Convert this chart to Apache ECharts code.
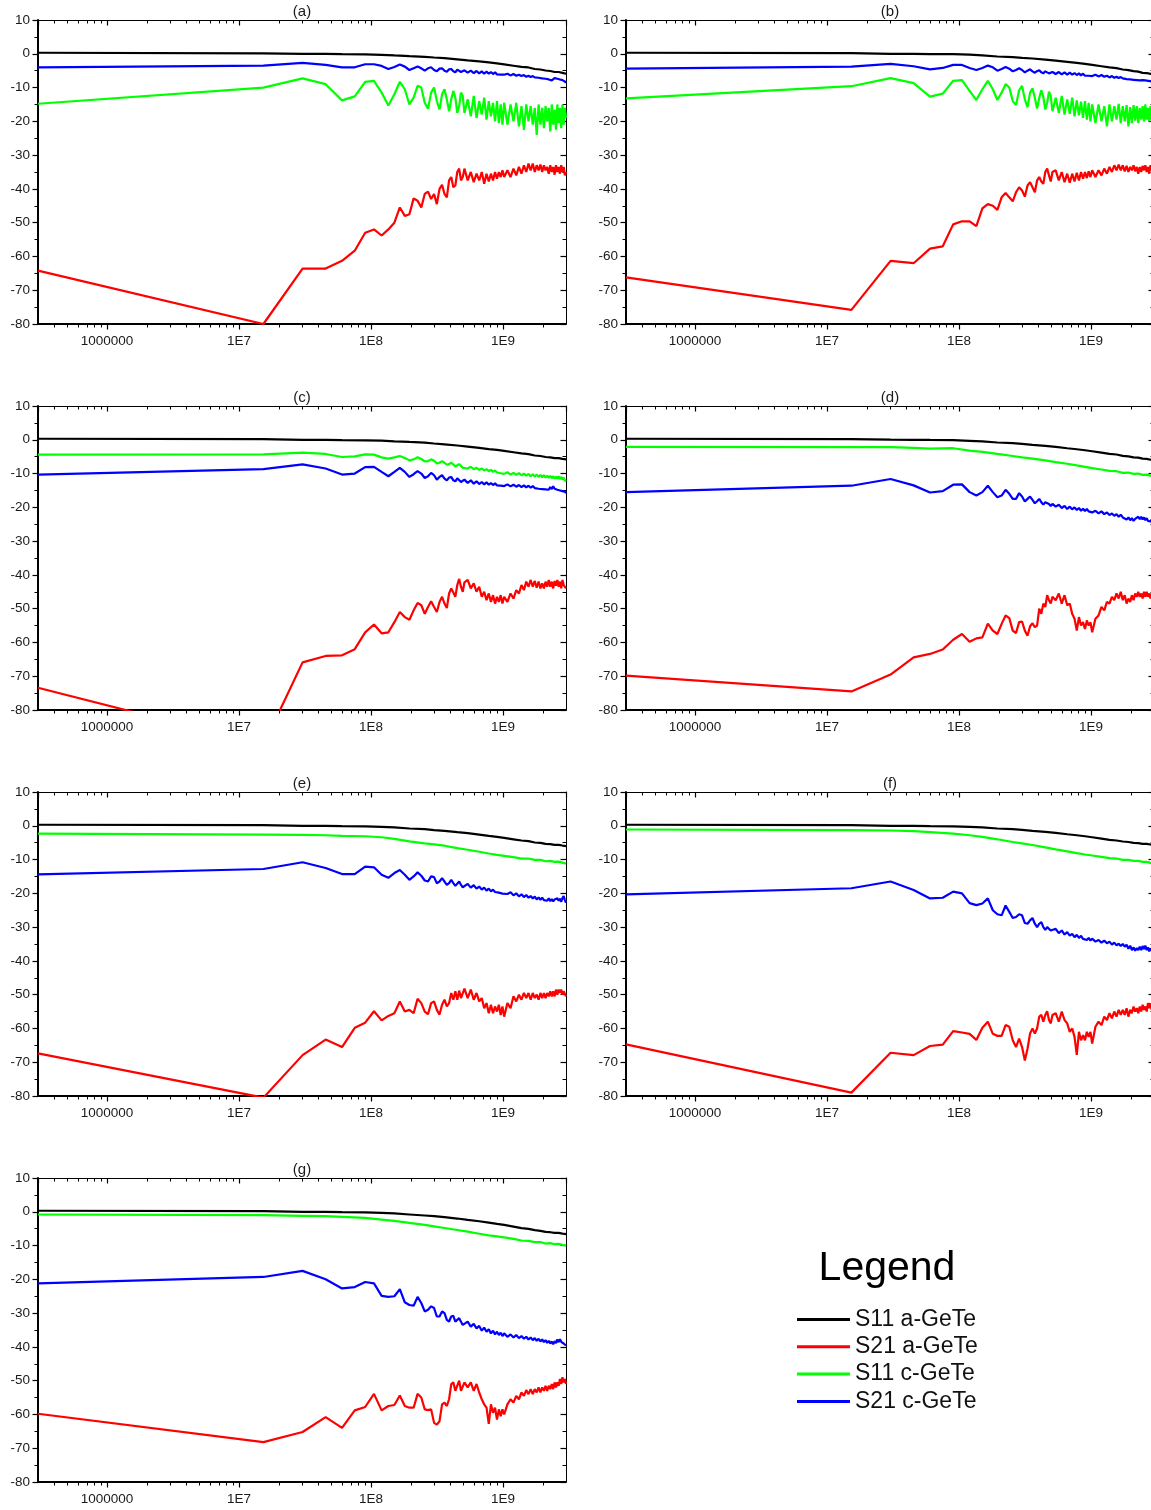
<!DOCTYPE html>
<html>
<head>
<meta charset="utf-8">
<script src="https://cdn.jsdelivr.net/npm/echarts@6/dist/echarts.min.js"></script>
<style>
  html, body { margin: 0; padding: 0; background: #fff; }
  #chart { width: 1151px; height: 1510px; }
</style>
</head>
<body>
<div id="chart"></div>
<script>
// Frequency sweep points (MHz) used by the rippled traces
const freqMHz = [
  0.3, 15.3, 30.3, 45.3, 60.3, 75.3, 90.3, 105.3, 120.3, 135.3, 150.3, 165.3, 180.3, 195.3, 210.3, 225.3, 240.3, 255.3,
  270.3, 285.3, 300.3, 315.3, 330.3, 345.3, 360.3, 375.3, 390.3, 405.3, 420.3, 435.3, 450.3, 465.3, 480.3, 495.3, 510.3,
  540, 570, 600, 630, 660, 690, 720, 750, 780, 810, 840, 870, 900, 930, 960, 990, 1020,
  1080, 1140, 1200, 1260, 1320, 1380, 1440, 1500, 1560, 1620, 1680, 1740, 1800, 1860, 1920, 1980, 2040, 2100, 2160,
  2220, 2280, 2340, 2400, 2460, 2520, 2580, 2640, 2700, 2760, 2820, 2880, 2940, 3000
];
// Sparser points (MHz) for the smooth traces
const coarseMHz = [
  0.3, 15.3, 30.3, 45.3, 60.3, 90.3, 120.3, 150.3, 195.3, 255.3, 300.3, 360.3, 450.3, 540, 660, 780, 900, 1020,
  1200, 1380, 1560, 1740, 1920, 2100, 2280, 2460, 2640, 2820, 3000
];
// Axis ticks
const xTickValues = [1e6, 1e7, 1e8, 1e9];
const xTickLabels = ['1000000', '1E7', '1E8', '1E9'];
const minorTickMHz = [0.4, 0.5, 0.6, 0.7, 0.8, 0.9, 2, 3, 4, 5, 6, 7, 8, 9, 20, 30, 40, 50, 60, 70, 80, 90,
  200, 300, 400, 500, 600, 700, 800, 900, 2000];
const seriesNames = ['S11 a-GeTe', 'S21 a-GeTe', 'S11 c-GeTe', 'S21 c-GeTe'];
const seriesColors = ['#000000', '#ff0000', '#00ff00', '#0000ff'];
const panelLabels = ['(a)', '(b)', '(c)', '(d)', '(e)', '(f)', '(g)'];

// ---- (a) ----
const aS11a = [0.3, 0.1, 0, -0.05, -0.1, -0.15, -0.3, -0.5, -0.7, -0.9, -1.1, -1.3, -1.65, -1.95, -2.25, -2.55, -2.85, -3.15,
  -3.55, -3.9, -4.05, -4.5, -4.65, -4.95, -5.1, -5.4, -5.4, -5.65, -5.9];
const aS21a = [
  -64.2, -80, -63.6, -63.6, -61.3, -58.3, -53, -52, -53.8, -52, -50, -45.5, -48, -47.5, -42.8, -43.5, -45.5, -41.5,
  -40.8, -43, -41.5, -44.5, -40, -38.8, -41.5, -42.5, -37.5, -36.5, -39.5, -39, -35, -34, -37.5, -36.5, -34,
  -37.5, -35, -38, -35.5, -37.5, -35, -38.5, -35.5, -37.8, -35.5, -37.5, -35, -37, -35, -36.5, -34.5, -36.5,
  -34.5, -36.5, -34, -36, -33.5, -35.5, -33, -35, -32.5, -34.5, -32.5, -35, -33, -34.5, -32.8, -35, -33, -34.5, -33.5,
  -35.5, -33, -35, -33.5, -35.8, -33, -35, -33.5, -35.5, -33, -35, -33.5, -36, -35];
const aS11c = [
  -14.8, -10, -7.3, -9, -13.8, -12.6, -8.3, -8, -11.5, -15.3, -12, -8.3, -10.5, -15, -13, -9.5, -10, -14.5,
  -16.3, -11.5, -10, -14, -16.5, -12, -10.5, -13.5, -17, -13.5, -11, -13, -17.5, -15.5, -11.5, -12.5, -17.5,
  -13.5, -18.5, -12.5, -19, -14, -18, -13, -19.5, -14, -18.5, -14.5, -20, -14, -20.5, -15, -21, -14.5,
  -21, -15, -20, -14.5, -21.5, -15.5, -22.5, -15, -20, -15.5, -21, -16, -24, -15, -21, -16, -22, -15.5, -20,
  -16, -23, -15, -21, -16.5, -22.5, -15, -20.5, -16, -22, -15, -21, -16, -19];
const aS21c = [
  -4, -3.5, -2.7, -3.3, -4, -4, -3.1, -3.1, -3.6, -4.5, -3.9, -3.2, -3.8, -4.8, -4.3, -3.8, -4.3, -5,
  -4.3, -4, -4.8, -5.2, -4.4, -4.3, -5, -5.3, -4.6, -4.5, -5.2, -5.5, -4.7, -4.7, -5.4, -5.6, -4.9,
  -5.6, -5, -5.7, -5.1, -5.8, -5.2, -5.9, -5.3, -5.9, -5.4, -6, -5.5, -6.1, -5.6, -6.2, -5.7, -6.2,
  -5.9, -6.4, -6, -6.5, -6.2, -6.6, -6.3, -6.8, -6.5, -6.9, -6.6, -7, -6.7, -7.1, -6.9, -7.3, -7, -7.4, -7.2,
  -7.6, -7.5, -7.9, -7.4, -7.2, -7, -7.4, -7.1, -7.6, -7.3, -7.8, -7.9, -8.2, -8.6];

// ---- (b) ----
const bS11a = [0.3, 0.2, 0, -0.05, -0.1, -0.1, -0.25, -0.5, -0.8, -1, -1.2, -1.4, -1.75, -2.05, -2.4, -2.7, -3, -3.3,
  -3.7, -4.05, -4.25, -4.65, -4.85, -5.15, -5.3, -5.65, -5.7, -5.95, -6.1];
const bS21a = [
  -66.2, -75.8, -61.3, -62, -57.7, -57, -50.5, -49.6, -49.6, -51, -45.8, -44.5, -45, -46.2, -42.5, -41.2, -42.5, -43.7,
  -41, -39.5, -40.5, -42.3, -39, -38, -39.5, -41, -37.5, -36.5, -37.8, -38.5, -35, -34, -36, -37.8, -35,
  -34.5, -37.5, -35, -38, -35.5, -38.2, -35.5, -37.8, -35.2, -37.5, -35, -37, -35, -36.8, -34.8, -36.5, -34.5,
  -36.5, -34.5, -36, -34, -35.5, -33.5, -35, -33, -34.5, -32.8, -34.5, -33, -34.8, -33.2, -35, -33.5, -34.5, -33, -34.8,
  -33.5, -35.5, -33.5, -35, -33.2, -34.5, -33, -35, -33.5, -35.5, -33, -34.5, -33.5, -35];
const bS11c = [
  -13.2, -9.6, -7.2, -8.7, -12.7, -11.8, -8, -7.8, -11, -13.7, -10.5, -8, -10.5, -13.7, -11.5, -9, -10, -14,
  -15.2, -10.8, -9.5, -13.5, -15.8, -11.5, -10.2, -13, -16.2, -13, -10.8, -12.8, -16.5, -14.5, -11.2, -12.5, -17,
  -13, -17.5, -12.5, -18, -13.5, -17.8, -13, -18.5, -13.8, -18.2, -14.2, -19, -14, -19.5, -14.5, -20, -15,
  -20.5, -15, -20, -15.5, -21.5, -15, -20, -15.5, -19.5, -14.8, -20.5, -15.5, -20, -15.2, -21.5, -15.8, -20.5, -15.2, -19.8,
  -15.5, -20.5, -16, -19.5, -15.5, -20, -15, -19.5, -16, -20, -15.5, -19.5, -16, -17];
const bS21c = [
  -4.4, -3.8, -3, -3.7, -4.6, -4.2, -3.3, -3.3, -4.2, -4.8, -4.2, -3.5, -4, -5, -4.5, -3.9, -4.4, -5.2,
  -4.8, -4.3, -4.8, -5.5, -5, -4.6, -5.2, -5.6, -5.1, -4.9, -5.5, -5.8, -5.2, -5.2, -5.8, -5.9, -5.4,
  -6, -5.4, -6.1, -5.5, -6.2, -5.6, -6.2, -5.7, -6.3, -5.8, -6.4, -5.9, -6.5, -6, -6.5, -6.1, -6.6,
  -6.2, -6.7, -6.3, -6.8, -6.5, -7, -6.6, -7.1, -6.8, -7.2, -6.9, -7.3, -7, -7.5, -7.2, -7.6, -7.3, -7.7, -7.3,
  -7.8, -7.5, -7.9, -7.5, -7.8, -7.4, -7.9, -7.6, -8, -7.7, -8.1, -8, -8.4, -8.9];

// ---- (c) ----
const cS11a = [0.3, 0.2, 0, -0.05, -0.1, -0.15, -0.25, -0.45, -0.65, -0.85, -1.1, -1.35, -1.7, -2, -2.4, -2.75, -3, -3.3,
  -3.7, -4.05, -4.25, -4.65, -4.8, -5.1, -5.2, -5.45, -5.45, -5.65, -5.8];
const cS21a = [
  -73.4, -90.4, -65.9, -64, -63.8, -62, -57, -54.7, -57.3, -57, -54, -51, -52.5, -53.3, -50.5, -48.3, -49, -51.5,
  -49.5, -47.8, -49.5, -51, -48, -46.5, -48.5, -49.8, -45.5, -44, -45.2, -46.5, -43, -41.2, -43.5, -45, -42.2,
  -41.5, -44, -42.5, -45, -43.5, -46.5, -45, -47.5, -45.5, -48, -46, -48.5, -46.5, -48, -46, -48.5, -46.5,
  -48, -45.5, -47, -44.5, -45.5, -43, -44.5, -42, -43.5, -41.5, -43.5, -41.8, -43.8, -42, -44, -42.5, -44, -42, -43.5,
  -41.5, -43.5, -42, -44, -41.8, -43.2, -41.5, -43.5, -42, -44, -41.5, -43, -42.5, -44];
const cS11c = [
  -4.4, -4.3, -3.8, -4.2, -5.1, -4.9, -4.3, -4.4, -5.2, -5.6, -5.2, -4.8, -5.4, -6.1, -5.8, -5.2, -5.7, -6.4,
  -6.3, -5.8, -6.2, -7, -6.8, -6.3, -6.8, -7.4, -7.2, -6.8, -7.3, -7.9, -7.6, -7.2, -7.7, -8.3, -8,
  -8.5, -8, -8.7, -8.3, -8.9, -8.5, -9.1, -8.7, -9.3, -8.9, -9.5, -9.1, -9.7, -9.3, -9.9, -9.5, -10.1,
  -9.6, -10.3, -9.8, -10.4, -9.9, -10.5, -10, -10.6, -10.1, -10.8, -10.2, -10.9, -10.3, -11, -10.4, -11.1, -10.5, -11.2, -10.6,
  -11.3, -10.7, -11.4, -10.8, -11.5, -10.9, -11.5, -10.8, -11.6, -11, -11.8, -11.2, -12, -12.3];
const cS21c = [
  -10.3, -8.7, -7.3, -8.5, -10.3, -10, -8.1, -8, -9.5, -10.8, -9.5, -8.3, -9.5, -11, -10.2, -9.3, -10, -11.3,
  -10.8, -9.8, -10.5, -11.8, -11, -10.5, -11.5, -12, -11.2, -11, -12, -12.3, -11.4, -11.5, -12.5, -12.6, -11.8,
  -12.8, -12, -13, -12.3, -13.1, -12.5, -13.2, -12.6, -13.3, -12.8, -13.4, -12.9, -13.5, -13, -13.6, -13.1, -13.7,
  -13.2, -13.8, -13.3, -13.9, -13.4, -14, -13.5, -14.1, -13.6, -14.2, -13.7, -14.3, -13.9, -14.5, -14, -14.6, -14.1, -14.7, -14.2,
  -14.8, -14, -14.6, -13.8, -14.5, -14, -14.8, -14.3, -15, -14.5, -15.2, -14.8, -15.4, -15.8];

// ---- (d) ----
const dS11a = [0.3, 0.2, 0.05, 0, -0.05, -0.1, -0.3, -0.5, -0.8, -1, -1.2, -1.5, -1.8, -2.1, -2.5, -2.8, -3.1, -3.4,
  -3.8, -4.15, -4.35, -4.75, -4.9, -5.2, -5.3, -5.6, -5.65, -5.9, -6];
const dS21a = [
  -69.8, -74.5, -69.5, -64.4, -63.4, -62.1, -59.2, -57.5, -59.8, -58.8, -58.5, -54.4, -56.5, -57.5, -54.5, -52, -52.8, -56.5,
  -57.2, -54, -53.8, -56.5, -58, -55.2, -54.3, -55.5, -55, -50, -51.5, -48.5, -49.5, -46, -47.5, -48.5, -46.5,
  -47.5, -45.5, -48.5, -46, -49, -48.5, -51.5, -53, -56.5, -52.5, -55, -54, -56, -53.5, -55, -54, -57,
  -53, -52, -49.5, -50.5, -48, -48.5, -46.5, -47.5, -45.5, -47, -45, -47.5, -46, -48.5, -47, -48, -46, -47.5, -45.5,
  -46.5, -45, -46.5, -45.5, -47, -45, -46.5, -45, -46.5, -45.5, -47, -45.5, -46.5, -47];
const dS11c = [-2.1, -2.2, -2.2, -2.4, -2.6, -2.5, -3.2, -3.6, -4.2, -4.8, -5.2, -5.6, -6.1, -6.6, -7.1, -7.6, -8, -8.4,
  -8.8, -9.2, -9.3, -9.8, -9.7, -10.1, -10, -10.4, -10.3, -10.6, -10.9];
const dS21c = [
  -15.5, -13.6, -11.6, -13.5, -15.6, -15.2, -13.3, -13.2, -15.5, -16.5, -15.5, -13.6, -15.5, -17, -16.5, -14.8, -16, -17.5,
  -17.5, -15.8, -16.8, -18.3, -17.5, -16.8, -17.8, -18.8, -18.2, -17.5, -18.5, -19.2, -18.5, -18, -19, -19.6, -19,
  -19.8, -19.2, -20.2, -19.6, -20.5, -19.8, -20.6, -20, -20.8, -20.2, -21, -20.4, -21.1, -20.5, -21.2, -20.7, -21.5,
  -21, -21.8, -21.2, -22, -21.5, -22.3, -21.8, -22.5, -22, -22.8, -22.2, -23, -22.8, -23.6, -23, -23.8, -23.2, -24, -23.4,
  -23.8, -22.8, -23.5, -22.8, -23.6, -23, -23.8, -23.2, -24, -23.5, -24.2, -23.6, -24.5, -25];

// ---- (e) ----
const eS11a = [0.3, 0.2, 0, -0.05, -0.1, -0.15, -0.3, -0.5, -0.8, -1, -1.3, -1.5, -1.9, -2.2, -2.6, -3, -3.3, -3.6,
  -4, -4.35, -4.55, -4.95, -5.05, -5.35, -5.45, -5.65, -5.65, -5.85, -6];
const eS21a = [
  -67.4, -80.5, -67.9, -63.3, -65.5, -59.8, -58.3, -54.9, -57.6, -56.3, -55.5, -52, -55, -54.5, -55.5, -51.2, -52.5, -55,
  -55.8, -52.5, -52, -54.5, -55.9, -53, -51.5, -53.5, -52.5, -49.5, -51.5, -49, -51.5, -48.8, -51, -51.5, -48.2,
  -51, -48.5, -51.5, -49.5, -52, -51, -54, -52.5, -55.5, -53, -55.5, -53.5, -55, -53, -56, -53.5, -56.5,
  -52.5, -54, -50.5, -52, -50, -51.5, -49.5, -51, -49.5, -51.5, -49.5, -51, -50, -51.5, -49.5, -51, -49.5, -51, -49.5,
  -50.5, -49, -50.5, -49, -50.5, -48.5, -50, -48.5, -49.5, -48.5, -50, -49, -48.5, -50.5];
const eS11c = [-2.3, -2.6, -2.7, -2.8, -3, -3.1, -3.4, -3.9, -4.6, -5.2, -5.5, -5.9, -6.6, -7.1, -7.7, -8.2, -8.6, -8.9,
  -9.3, -9.7, -9.7, -10.1, -10.1, -10.5, -10.4, -10.7, -10.6, -10.9, -11.2];
const eS21c = [
  -14.4, -12.8, -10.8, -12.5, -14.3, -14.3, -12.1, -12.3, -14.5, -15.4, -14, -13.1, -14.5, -16, -15, -13.8, -14.8, -16.2,
  -16.5, -15, -15.2, -17, -16.5, -15.5, -16.5, -17.5, -17, -16, -17, -17.8, -17.5, -16.5, -17.5, -18.2, -17.8,
  -17.2, -18.3, -17.6, -18.6, -18, -18.9, -18.3, -19.2, -18.6, -19.4, -18.9, -19.6, -19.1, -19.8, -19.3, -20.1, -19.6,
  -20.2, -19.7, -20.6, -20, -20.9, -20.3, -21.1, -20.5, -21.3, -20.8, -21.5, -21, -21.8, -21.2, -21.9, -21.3, -22, -21.5, -22.2,
  -21.5, -22.3, -21.7, -22.4, -21.8, -22.3, -21.5, -22.2, -21.6, -22.5, -21.4, -20.8, -22, -22.8];

// ---- (f) ----
const fS11a = [0.3, 0.2, 0, -0.05, -0.1, -0.15, -0.3, -0.5, -0.8, -1, -1.2, -1.5, -1.8, -2.1, -2.5, -2.8, -3.1, -3.4,
  -3.8, -4.15, -4.35, -4.65, -4.8, -5.05, -5.15, -5.35, -5.35, -5.55, -5.8];
const fS21a = [
  -64.7, -79, -67.2, -67.9, -65.2, -64.8, -60.8, -61.2, -61.6, -63.4, -59.8, -58, -61.6, -62.2, -62.2, -59, -59.5, -63.5,
  -65.5, -63, -65.5, -69.5, -66, -61.5, -60, -61.5, -60, -56.5, -56, -58, -56, -54.9, -57.5, -58.5, -56,
  -55.5, -58, -55, -57.5, -58.5, -61, -60, -62.5, -67.8, -61, -63.5, -62, -63.5, -61, -62.5, -61, -64.5,
  -59.5, -58, -59, -56.5, -57.5, -55.5, -57, -55, -56.5, -54.5, -56, -54.5, -56, -54, -56.5, -54.5, -55.5, -53.5, -55,
  -54, -55.5, -53.5, -55, -53, -54.5, -53.5, -55, -52.5, -54, -52.5, -54.5, -53, -54.5];
const fS11c = [-1.1, -1.3, -1.4, -1.6, -1.9, -2.3, -2.8, -3.3, -4, -4.8, -5.2, -5.7, -6.4, -7, -7.6, -8.1, -8.5, -8.8,
  -9.2, -9.6, -9.7, -10.1, -10.1, -10.4, -10.4, -10.7, -10.7, -11, -11.3];
const fS21c = [
  -20.3, -18.5, -16.5, -19, -21.5, -21.3, -19.5, -20, -22.9, -23.5, -23, -21.5, -25, -26.2, -26.5, -23.6, -25.5, -27.3,
  -27, -26.2, -26.5, -28.8, -29, -28, -27.3, -29, -30, -29, -28.5, -30, -30.8, -30, -29.5, -31, -31.5,
  -30.5, -31.8, -31, -32.2, -31.5, -32.5, -32, -33, -32.3, -33.2, -32.6, -33.5, -33, -33.8, -33.2, -34, -33.4,
  -34.3, -33.8, -34.6, -34, -34.8, -34.3, -35.2, -34.6, -35.4, -34.9, -35.6, -35, -35.8, -35.2, -36.4, -35.5, -36.8, -36, -37,
  -36.2, -36.8, -35.8, -36.8, -35.6, -36.5, -35.5, -36.8, -36, -37.2, -36.3, -36.9, -36.4, -37.5];

// ---- (g) ----
const gS11a = [0.3, 0.2, 0, -0.05, -0.1, -0.15, -0.3, -0.5, -0.8, -1.1, -1.3, -1.6, -2, -2.4, -2.8, -3.2, -3.6, -3.9,
  -4.4, -4.85, -5.05, -5.45, -5.65, -5.95, -6.05, -6.25, -6.25, -6.45, -6.6];
const gS21a = [
  -59.8, -68.2, -65.2, -60.8, -64, -58.8, -57.8, -53.9, -58.8, -57.5, -57.2, -54.4, -57.5, -58, -58, -53.9, -55, -58.5,
  -58.7, -58.5, -62.5, -63, -62, -57, -56.5, -57.5, -55.5, -51, -50.5, -53, -52.5, -50, -53, -52.5, -50.5,
  -52, -50.5, -53, -51, -53.5, -55.5, -57, -58, -62.8, -57, -59.5, -58, -61.5, -58.5, -60.5, -58.5, -60,
  -57, -55.5, -56.5, -54.5, -55.5, -53.5, -54.5, -52.8, -54, -52.5, -54, -52.5, -53.5, -52, -53.5, -52, -53, -51.5, -53,
  -51.5, -52.5, -51, -52.5, -50.5, -52, -50.5, -51.5, -49.5, -51, -49, -50.5, -49.5, -51];
const gS11c = [-0.8, -1, -1.2, -1.3, -1.5, -1.8, -2.3, -2.7, -3.3, -3.9, -4.3, -4.8, -5.4, -5.9, -6.5, -7, -7.3, -7.6,
  -8, -8.5, -8.6, -9, -9, -9.4, -9.3, -9.6, -9.5, -9.8, -10];
const gS21c = [
  -21.2, -19.3, -17.5, -20, -22.7, -22.3, -20.8, -21.2, -24.9, -25.2, -25, -22.9, -26.8, -27.6, -27.8, -25.2, -27, -29.5,
  -29, -28, -28.5, -31, -31, -29.5, -30, -32, -32.5, -31, -30.8, -32.5, -33, -31.5, -31.5, -33.5, -33.5,
  -32.5, -34, -33.2, -34.5, -33.8, -35.2, -34.3, -35.5, -34.8, -36, -35.2, -36.3, -35.5, -36.5, -35.8, -36.8, -36,
  -37, -36.3, -37.2, -36.5, -37.4, -36.8, -37.6, -37, -37.8, -37.2, -38, -37.4, -38.2, -37.6, -38.4, -37.8, -38.6, -38, -38.8,
  -38.2, -39, -38.4, -39.2, -38.3, -38.9, -37.8, -38.6, -37.7, -38.5, -38, -39, -38.5, -39.6];

// Traces per panel, in legend order: [frequency grid, values]
const panelTraces = [
  [[coarseMHz, aS11a], [freqMHz, aS21a], [freqMHz, aS11c], [freqMHz, aS21c]],
  [[coarseMHz, bS11a], [freqMHz, bS21a], [freqMHz, bS11c], [freqMHz, bS21c]],
  [[coarseMHz, cS11a], [freqMHz, cS21a], [freqMHz, cS11c], [freqMHz, cS21c]],
  [[coarseMHz, dS11a], [freqMHz, dS21a], [coarseMHz, dS11c], [freqMHz, dS21c]],
  [[coarseMHz, eS11a], [freqMHz, eS21a], [coarseMHz, eS11c], [freqMHz, eS21c]],
  [[coarseMHz, fS11a], [freqMHz, fS21a], [coarseMHz, fS11c], [freqMHz, fS21c]],
  [[coarseMHz, gS11a], [freqMHz, gS21a], [coarseMHz, gS11c], [freqMHz, gS21c]]
];

const FONT = "'Liberation Sans', Arial, sans-serif";
const TEXT_COLOR = '#1a1a1a';
const colLeft = [38, 626];
const rowTop = [20, 406, 792, 1178];
const PLOT_W = 528, PLOT_H = 304;
const X_MIN = 3e5, X_MAX = 3e9, Y_MIN = -80, Y_MAX = 10;

function xLabel(v) {
  for (let i = 0; i < xTickValues.length; i++) {
    if (Math.abs(Math.log10(v) - Math.log10(xTickValues[i])) < 1e-6) return xTickLabels[i];
  }
  return '';
}

// Minor ticks of the frequency axis (2..9 per decade), bottom outward and top inward
function renderMinorTicks(params, api) {
  const cs = params.coordSys;
  const x = Math.round(api.coord([api.value(0), 0])[0]) + 0.5;
  const top = cs.y, bottom = cs.y + cs.height;
  const st = { stroke: '#000', lineWidth: 1 };
  return {
    type: 'group',
    children: [
      { type: 'line', shape: { x1: x, y1: bottom, x2: x, y2: bottom + 3.5 }, style: st },
      { type: 'line', shape: { x1: x, y1: top, x2: x, y2: top + 3.5 }, style: st }
    ]
  };
}

const grids = [], xAxes = [], yAxes = [], series = [], graphics = [];

panelTraces.forEach((traces, i) => {
  const col = i % 2, row = Math.floor(i / 2);
  const left = colLeft[col], top = rowTop[row];
  grids.push({ left: left, top: top, width: PLOT_W, height: PLOT_H, containLabel: false, outerBoundsMode: 'none' });

  const xBase = {
    gridIndex: i, type: 'log', logBase: 10, min: X_MIN, max: X_MAX,
    splitLine: { show: false }, minorSplitLine: { show: false }
  };
  xAxes.push(Object.assign({}, xBase, {
    position: 'bottom',
    axisLine: { show: true, onZero: false, lineStyle: { color: '#000', width: 2 } },
    axisTick: { show: true, inside: false, length: 5.5, lineStyle: { color: '#000', width: 1.2 } },
    axisLabel: { show: true, interval: 0, margin: 10, formatter: xLabel, fontSize: 13.5,
      fontFamily: FONT, color: TEXT_COLOR, showMinLabel: false, showMaxLabel: false }
  }));
  xAxes.push(Object.assign({}, xBase, {
    position: 'top',
    axisLine: { show: true, onZero: false, lineStyle: { color: '#000', width: 1 } },
    axisTick: { show: true, inside: true, length: 5.5, lineStyle: { color: '#000', width: 1.2 } },
    axisLabel: { show: false }
  }));

  const yBase = {
    gridIndex: i, type: 'value', min: Y_MIN, max: Y_MAX, interval: 10,
    splitLine: { show: false }, minorSplitLine: { show: false }
  };
  yAxes.push(Object.assign({}, yBase, {
    position: 'left',
    axisLine: { show: true, onZero: false, lineStyle: { color: '#000', width: 2 } },
    axisTick: { show: true, inside: false, length: 5.5, lineStyle: { color: '#000', width: 1.2 } },
    minorTick: { show: true, splitNumber: 2, length: 3.5, lineStyle: { color: '#000', width: 1 } },
    axisLabel: { show: true, margin: 8, fontSize: 13.5, fontFamily: FONT, color: TEXT_COLOR }
  }));
  yAxes.push(Object.assign({}, yBase, {
    position: 'right',
    axisLine: { show: true, onZero: false, lineStyle: { color: '#000', width: 1 } },
    axisTick: { show: true, inside: true, length: 5.5, lineStyle: { color: '#000', width: 1.2 } },
    minorTick: { show: true, splitNumber: 2, length: 3.5, lineStyle: { color: '#000', width: 1 } },
    axisLabel: { show: false }
  }));

  traces.forEach((tr, k) => {
    const fr = tr[0], vals = tr[1];
    const n = Math.min(fr.length, vals.length);
    const data = [];
    for (let j = 0; j < n; j++) data.push([fr[j] * 1e6, vals[j]]);
    series.push({
      type: 'line', name: seriesNames[k],
      xAxisIndex: 2 * i, yAxisIndex: 2 * i,
      data: data, showSymbol: false, symbol: 'none', clip: true, silent: true,
      lineStyle: { color: seriesColors[k], width: 2.2 },
      itemStyle: { color: seriesColors[k] },
      emphasis: { disabled: true }
    });
  });

  series.push({
    type: 'custom', xAxisIndex: 2 * i, yAxisIndex: 2 * i, clip: false, silent: true, z: 5,
    data: minorTickMHz.map(f => [f * 1e6, 0]),
    renderItem: renderMinorTicks
  });

  graphics.push({
    type: 'text', x: left + PLOT_W / 2, y: top - 8,
    style: { text: panelLabels[i], font: '15px ' + FONT, fill: TEXT_COLOR, textAlign: 'center', textVerticalAlign: 'middle', verticalAlign: 'middle', align: 'center' }
  });
});

graphics.push({
  type: 'text', x: 887, y: 1269,
  style: { text: 'Legend', font: '41px ' + FONT, fill: '#000', textAlign: 'center', textVerticalAlign: 'middle', verticalAlign: 'middle', align: 'center' }
});

const chart = echarts.init(document.getElementById('chart'), null, { renderer: 'canvas' });
chart.setOption({
  animation: false,
  backgroundColor: '#ffffff',
  textStyle: { fontFamily: FONT },
  grid: grids,
  xAxis: xAxes,
  yAxis: yAxes,
  series: series,
  graphic: graphics,
  legend: {
    data: seriesNames,
    orient: 'vertical',
    left: 797, top: 1308,
    padding: 0,
    itemWidth: 53, itemHeight: 3, itemGap: 4.3,
    icon: 'rect',
    selectedMode: false,
    textStyle: { fontSize: 23, lineHeight: 23, fontFamily: FONT, color: '#111' }
  },
  tooltip: { show: false }
});
</script>
</body>
</html>
